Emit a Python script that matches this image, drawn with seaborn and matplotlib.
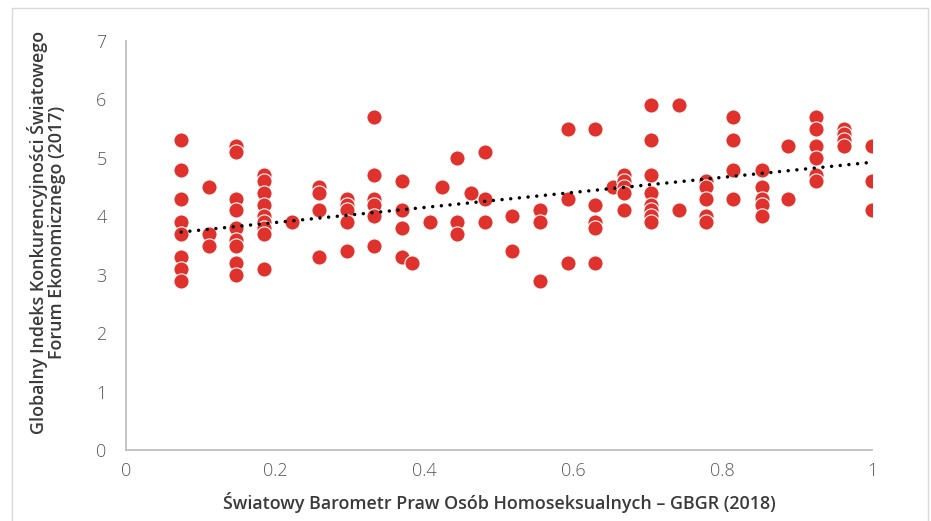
import numpy as np
import pandas as pd
import matplotlib
matplotlib.use('Agg')
import matplotlib.pyplot as plt
from matplotlib.lines import Line2D
import seaborn as sns

# GBGR index (x) and WEF competitiveness index (y)
gbgr = [0.074] * 8 + [0.111] * 3 + [0.148] * 9 + [0.185] * 9 + [0.222] \
    + [0.259] * 4 + [0.296] * 5 + [0.333] * 6 + [0.370] * 4 + [0.384] \
    + [0.407, 0.423] + [0.444] * 3 + [0.462] + [0.481] * 3 + [0.518] * 2 \
    + [0.555] * 3 + [0.592] * 3 + [0.629] * 5 + [0.653] + [0.667] * 5 \
    + [0.704] * 8 + [0.741] * 2 + [0.777] * 5 + [0.814] * 4 + [0.852] * 5 \
    + [0.888] * 2 + [0.925] * 6 + [0.962] * 4 + [1.0] * 3
wef = [5.3, 4.8, 4.3, 3.9, 3.7, 3.3, 3.1, 2.9,
       4.5, 3.7, 3.5,
       5.2, 5.1, 4.3, 4.1, 3.8, 3.6, 3.5, 3.2, 3.0,
       4.7, 4.6, 4.4, 4.2, 4.0, 3.9, 3.8, 3.7, 3.1,
       3.9,
       4.5, 4.4, 4.1, 3.3,
       4.3, 4.2, 4.1, 3.9, 3.4,
       5.7, 4.7, 4.3, 4.2, 4.0, 3.5,
       4.6, 4.1, 3.8, 3.3,
       3.2,
       3.9, 4.5,
       5.0, 3.9, 3.7,
       4.4,
       5.1, 4.3, 3.9,
       4.0, 3.4,
       4.1, 3.9, 2.9,
       5.5, 4.3, 3.2,
       5.5, 4.2, 3.9, 3.8, 3.2,
       4.5,
       4.7, 4.6, 4.5, 4.4, 4.1,
       5.9, 5.3, 4.7, 4.4, 4.2, 4.1, 4.0, 3.9,
       5.9, 4.1,
       4.6, 4.5, 4.3, 4.0, 3.9,
       5.7, 5.3, 4.8, 4.3,
       4.8, 4.5, 4.3, 4.2, 4.0,
       5.2, 4.3,
       5.7, 5.5, 5.2, 5.0, 4.7, 4.6,
       5.5, 5.4, 5.3, 5.2,
       5.2, 4.6, 4.1]

# linear trendline as shown on the chart
trend_slope = 1.29
trend_intercept = 3.635

df = pd.DataFrame({'gbgr': gbgr, 'wef': wef})

sns.set_style('white')
plt.rcParams['font.family'] = ['Open Sans', 'DejaVu Sans']

fig = plt.figure(figsize=(9.31, 5.21), dpi=100)
ax = fig.add_axes([126 / 931, 1 - 450 / 521, 746 / 931, 409 / 521])

sns.scatterplot(data=df, x='gbgr', y='wef', ax=ax, color='#e0322d',
                s=120, edgecolor='white', linewidth=0.8, zorder=3)

# trendline spans the data range, like Excel draws it
xs = np.array([df['gbgr'].min(), df['gbgr'].max()])
ax.plot(xs, trend_slope * xs + trend_intercept, color='black',
        linestyle=(0, (0.01, 2.5)), linewidth=2.5, dash_capstyle='round',
        zorder=4)

ax.set_xlim(0, 1)
ax.set_ylim(0, 7)
ax.set_xticks([0, 0.2, 0.4, 0.6, 0.8, 1])
ax.set_xticklabels(['0', '0.2', '0.4', '0.6', '0.8', '1'])
ax.set_yticks(range(8))
ax.tick_params(axis='both', labelsize=13, colors='#595959', length=0)
ax.tick_params(axis='x', pad=9)
ax.tick_params(axis='y', pad=14)
for lab in ax.get_xticklabels() + ax.get_yticklabels():
    lab.set_fontweight('light')

for side in ['top', 'right']:
    ax.spines[side].set_visible(False)
for side in ['left', 'bottom']:
    ax.spines[side].set_color('#bfbfbf')
    ax.spines[side].set_linewidth(1.3)

ax.set_xlabel('Światowy Barometr Praw Osób Homoseksualnych – GBGR (2018)',
              fontsize=12.9, fontweight='semibold', color='#3a3a3a', labelpad=8)
ax.set_ylabel('Globalny Indeks Konkurencyjności Światowego\nForum Ekonomicznego (2017)',
              fontsize=12.9, fontweight='semibold', color='#3a3a3a',
              linespacing=1.05)
ax.yaxis.set_label_coords(-0.08, 0.533)

# light chart-area frame
frame_kw = dict(color='#d9d9d9', linewidth=1.0, transform=fig.transFigure)
l, r, t = 12 / 931, 928 / 931, 1 - 8 / 521
fig.add_artist(Line2D([l, l], [0, t], **frame_kw))
fig.add_artist(Line2D([l, r], [t, t], **frame_kw))
fig.add_artist(Line2D([r, r], [0, t], **frame_kw))

fig.savefig('out.png', dpi=100)
